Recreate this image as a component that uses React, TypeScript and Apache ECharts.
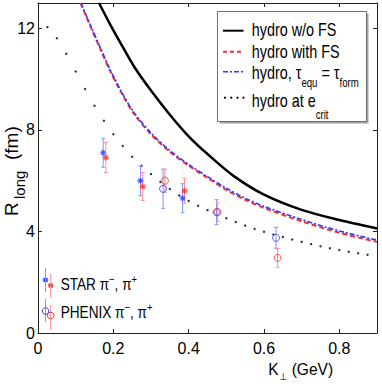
import React, { useEffect, useRef } from "react";
import * as echarts from "echarts";

const FF = '"Liberation Sans", Arial, Helvetica, sans-serif';

// axis ticks
const xTickLabels = ["0", "0.2", "0.4", "0.6", "0.8"];
const yTickLabels = ["0", "4", "8", "12"];

// hydro w/o FS (black solid)
const noFsK = [0.162, 0.19, 0.22, 0.255, 0.3, 0.35, 0.4, 0.45, 0.52, 0.6, 0.7, 0.8, 0.9];
const noFsR = [13.0, 12.2, 11.4, 10.5, 9.55, 8.6, 7.75, 7.05, 6.18, 5.45, 4.85, 4.45, 4.12];

// hydro with FS (red dashed)
const fsK = [0.113, 0.14, 0.166, 0.19, 0.22, 0.255, 0.3, 0.35, 0.4, 0.45, 0.5, 0.55, 0.6, 0.7, 0.8, 0.9];
const fsR = [13.0, 12.05, 11.17, 10.37, 9.5, 8.63, 7.83, 7.14, 6.59, 6.11, 5.64, 5.25, 4.93, 4.4, 3.95, 3.59];

// hydro, tau_equ = tau_form (blue dash-dot)
const equK = [0.114, 0.14, 0.166, 0.19, 0.22, 0.255, 0.3, 0.35, 0.4, 0.45, 0.5, 0.55, 0.6, 0.7, 0.8, 0.9];
const equR = [13.0, 12.1, 11.22, 10.42, 9.55, 8.68, 7.88, 7.19, 6.64, 6.16, 5.7, 5.31, 4.99, 4.47, 4.02, 3.66];

// hydro at e_crit (black dotted)
const critK = [0.025, 0.05, 0.075, 0.1, 0.125, 0.15, 0.175, 0.2, 0.225, 0.25, 0.275, 0.3, 0.325, 0.35, 0.375, 0.4, 0.425, 0.45, 0.475, 0.5, 0.525, 0.55, 0.575, 0.6, 0.625, 0.65, 0.675, 0.7, 0.725, 0.75, 0.775, 0.8, 0.825, 0.85, 0.875];
const critR = [12.05, 11.61, 11.0, 10.3, 9.61, 8.95, 8.36, 7.83, 7.37, 6.94, 6.59, 6.26, 5.95, 5.67, 5.42, 5.2, 5.01, 4.84, 4.68, 4.52, 4.37, 4.23, 4.1, 3.99, 3.88, 3.78, 3.68, 3.59, 3.5, 3.42, 3.34, 3.27, 3.2, 3.14, 3.08];

// STAR data
const starMinusK = [0.173, 0.272, 0.384];
const starMinusR = [7.1, 6.0, 5.31];
const starMinusErr = [0.57, 0.59, 0.57];
const starPlusK = [0.18, 0.278, 0.389];
const starPlusR = [6.91, 5.77, 5.6];
const starPlusErr = [0.59, 0.55, 0.49];

// PHENIX data
const phenixMinusK = [0.332, 0.474, 0.632];
const phenixMinusR = [5.68, 4.76, 3.75];
const phenixMinusErr = [0.77, 0.49, 0.41];
const phenixPlusK = [0.337, 0.477, 0.636];
const phenixPlusR = [6.0, 4.76, 2.96];
const phenixPlusErr = [0.46, 0.37, 0.37];

const BLUE = "#2b3bff";
const RED = "#ff2a2a";
const BLUE_BAR = "#8793ff";
const RED_BAR = "#ff8f8f";

const STAR_SYMBOL = "path://M5,0L5,10M0,5L10,5M1.5,1.5L8.5,8.5M1.5,8.5L8.5,1.5";

let _ctx: CanvasRenderingContext2D | null = null;
function measure(t: string, size: number) {
  if (!_ctx) _ctx = document.createElement("canvas").getContext("2d");
  _ctx!.font = `${size}px ${FF}`;
  return _ctx!.measureText(t).width;
}

function txt(t: string, x: number, base: number, size: number, sx = 1) {
  return {
    type: "text",
    x,
    y: base - 0.35 * size,
    scaleX: sx,
    silent: true,
    z: 100,
    style: { text: t, fill: "#000", font: `${size}px ${FF}`, textAlign: "left", textVerticalAlign: "middle" },
  };
}

function chain(x0: number, base: number, sx: number, pieces: [string, number, number][]) {
  let x = x0;
  const out: any[] = [];
  for (const [t, s, dy] of pieces) {
    out.push(txt(t, x, base + dy, s, sx));
    x += measure(t, s) * sx;
  }
  return out;
}

function pair(k: number[], r: number[]) {
  return k.map((v, i) => [v, r[i]]);
}

function errSeries(k: number[], r: number[], e: number[], color: string) {
  return {
    type: "custom",
    silent: true,
    z: 3,
    data: k.map((v, i) => [v, r[i], e[i]]),
    encode: { x: 0, y: 1 },
    renderItem: (params: any, api: any) => {
      const x = api.value(0);
      const y = api.value(1);
      const er = api.value(2);
      const top = api.coord([x, y + er]);
      const bot = api.coord([x, y - er]);
      const cw = 2;
      const st = { stroke: color, lineWidth: 1 };
      return {
        type: "group",
        children: [
          { type: "line", shape: { x1: top[0], y1: top[1], x2: bot[0], y2: bot[1] }, style: st },
          { type: "line", shape: { x1: top[0] - cw, y1: top[1], x2: top[0] + cw, y2: top[1] }, style: st },
          { type: "line", shape: { x1: bot[0] - cw, y1: bot[1], x2: bot[0] + cw, y2: bot[1] }, style: st },
        ],
      };
    },
  };
}

function fmt(labels: string[], step: number) {
  return (v: number) => {
    const q = v / step;
    const r = Math.round(q);
    return Math.abs(q - r) < 1e-6 && labels[r] !== undefined ? labels[r] : "";
  };
}

function legendStar(cx: number, cy: number, color: string) {
  const a = 2.8;
  const d = 2;
  const st = { stroke: color, lineWidth: 1.2 };
  return {
    type: "group",
    z: 100,
    silent: true,
    children: [
      { type: "line", shape: { x1: cx, y1: cy - a, x2: cx, y2: cy + a }, style: st },
      { type: "line", shape: { x1: cx - a, y1: cy, x2: cx + a, y2: cy }, style: st },
      { type: "line", shape: { x1: cx - d, y1: cy - d, x2: cx + d, y2: cy + d }, style: st },
      { type: "line", shape: { x1: cx - d, y1: cy + d, x2: cx + d, y2: cy - d }, style: st },
    ],
  };
}

function vline(x: number, y1: number, y2: number, color: string) {
  return { type: "line", z: 99, silent: true, shape: { x1: x, y1, x2: x, y2 }, style: { stroke: color, lineWidth: 1 } };
}

export default function App() {
  const ref = useRef<HTMLDivElement>(null);
  useEffect(() => {
    if (!ref.current) return;
    const chart = echarts.init(ref.current, undefined, { renderer: "svg" });

    const axisLineStyle = { color: "#222", width: 1 };
    const baseX = {
      type: "value",
      min: 0,
      max: 0.9,
      interval: 0.2,
      splitLine: { show: false },
      axisLine: { show: true, onZero: false, lineStyle: axisLineStyle },
      axisTick: { show: true, inside: true, length: 4, lineStyle: axisLineStyle },
    };
    const baseY = {
      type: "value",
      min: 0,
      max: 13,
      interval: 4,
      splitLine: { show: false },
      axisLine: { show: true, onZero: false, lineStyle: axisLineStyle },
      axisTick: { show: true, inside: true, length: 4, lineStyle: axisLineStyle },
    };

    const graphics: any[] = [];
    // Top-right legend box
    graphics.push({
      type: "rect", z: 98, silent: true,
      shape: { x: 219.5, y: 13.5, width: 149, height: 110 },
      style: { fill: "#a0a0a0" },
    });
    graphics.push({
      type: "rect", z: 99, silent: true,
      shape: { x: 217.5, y: 11.5, width: 149, height: 110 },
      style: { fill: "#fff", stroke: "#707070", lineWidth: 1 },
    });
    // line samples
    graphics.push({ type: "line", z: 100, silent: true, shape: { x1: 223, y1: 30.7, x2: 243.5, y2: 30.7 }, style: { stroke: "#000", lineWidth: 2 } });
    graphics.push({ type: "line", z: 100, silent: true, shape: { x1: 223, y1: 51.7, x2: 243.5, y2: 51.7 }, style: { stroke: RED, lineWidth: 2, lineDash: [4, 3] } });
    graphics.push({ type: "line", z: 100, silent: true, shape: { x1: 223, y1: 71.7, x2: 243.5, y2: 71.7 }, style: { stroke: BLUE, lineWidth: 1.5, lineDash: [5, 2, 2, 2] } });
    [225, 231.3, 237.5, 243.5].forEach((x) =>
      graphics.push({ type: "circle", z: 100, silent: true, shape: { cx: x, cy: 97.7, r: 1.1 }, style: { fill: "#000" } })
    );
    const LS = 0.8;
    graphics.push(...chain(251.7, 36, LS, [["hydro w/o FS", 18, 0]]));
    graphics.push(...chain(251.7, 57.3, LS, [["hydro with FS", 18, 0]]));
    graphics.push(...chain(251.7, 79, LS, [["hydro, τ", 18, 0], ["equ", 12, 8], [" = τ", 18, 0], ["form", 12, 8]]));
    graphics.push(...chain(251.7, 106.7, LS, [["hydro at e", 18, 0], ["crit", 12, 12]]));

    // Bottom-left data legend
    graphics.push(vline(45.5, 268, 292, BLUE_BAR));
    graphics.push(vline(50.7, 274, 298, RED_BAR));
    graphics.push(legendStar(45.5, 280, BLUE));
    graphics.push(legendStar(50.7, 285.5, RED));
    graphics.push(vline(45.5, 299, 322, BLUE_BAR));
    graphics.push(vline(50.7, 305, 330, RED_BAR));
    graphics.push({ type: "circle", z: 100, silent: true, shape: { cx: 45.5, cy: 311, r: 3.3 }, style: { fill: "none", stroke: BLUE, lineWidth: 1 } });
    graphics.push({ type: "circle", z: 100, silent: true, shape: { cx: 50.7, cy: 315.5, r: 3.3 }, style: { fill: "none", stroke: RED, lineWidth: 1 } });
    const DS = 0.85;
    graphics.push(...chain(60.7, 290, DS, [["STAR π", 16, 0], ["−", 11, -7], [", π", 16, 0], ["+", 11, -7]]));
    graphics.push(...chain(60.7, 318.5, DS, [["PHENIX π", 16, 0], ["−", 11, -7], [", π", 16, 0], ["+", 11, -7]]));

    // X axis title
    graphics.push(...chain(268.3, 375, 0.97, [["K", 16, 0], ["⊥", 10, 5], [" (GeV)", 16, 0]]));
    // Y axis title (rotated)
    graphics.push({
      type: "group",
      x: 18.3,
      y: 216,
      rotation: Math.PI / 2,
      silent: true,
      z: 100,
      children: [txt("R", 0, 0, 19), txt("long", 17, 6, 15), txt("(fm)", 56, 0, 19)],
    });

    const option: any = {
      animation: false,
      grid: { left: 38, right: 5, top: 3, bottom: 51 },
      xAxis: [
        {
          ...baseX,
          position: "bottom",
          axisLabel: { show: true, color: "#000", fontSize: 16, fontFamily: FF, margin: 7, showMaxLabel: false, formatter: fmt(xTickLabels, 0.2) },
        },
        { ...baseX, position: "top", axisLabel: { show: false } },
      ],
      yAxis: [
        {
          ...baseY,
          position: "left",
          axisLabel: { show: true, color: "#000", fontSize: 16, fontFamily: FF, margin: 3, showMaxLabel: false, formatter: fmt(yTickLabels, 4) },
        },
        { ...baseY, position: "right", axisLabel: { show: false } },
      ],
      series: [
        {
          name: "hydro w/o FS", type: "line", data: pair(noFsK, noFsR), showSymbol: false, smooth: 0.3,
          lineStyle: { color: "#000", width: 2.5 }, z: 2, silent: true,
        },
        {
          name: "hydro with FS", type: "line", data: pair(fsK, fsR), showSymbol: false, smooth: 0.3,
          lineStyle: { color: RED, width: 2, type: [5, 3] }, z: 2, silent: true,
        },
        {
          name: "hydro, tau", type: "line", data: pair(equK, equR), showSymbol: false, smooth: 0.3,
          lineStyle: { color: BLUE, width: 1.6, type: [5, 2, 2, 2] }, z: 2, silent: true,
        },
        {
          name: "hydro at e_crit", type: "scatter", data: pair(critK, critR), symbol: "circle", symbolSize: 2.4,
          itemStyle: { color: "#000" }, z: 2, silent: true,
        },
        errSeries(starMinusK, starMinusR, starMinusErr, BLUE_BAR),
        errSeries(starPlusK, starPlusR, starPlusErr, RED_BAR),
        errSeries(phenixMinusK, phenixMinusR, phenixMinusErr, BLUE_BAR),
        errSeries(phenixPlusK, phenixPlusR, phenixPlusErr, RED_BAR),
        {
          name: "STAR pi-", type: "scatter", data: pair(starMinusK, starMinusR), symbol: STAR_SYMBOL, symbolSize: 6,
          itemStyle: { color: BLUE, borderColor: BLUE, borderWidth: 1.2 }, z: 4, silent: true,
        },
        {
          name: "STAR pi+", type: "scatter", data: pair(starPlusK, starPlusR), symbol: STAR_SYMBOL, symbolSize: 6,
          itemStyle: { color: RED, borderColor: RED, borderWidth: 1.2 }, z: 4, silent: true,
        },
        {
          name: "PHENIX pi-", type: "scatter", data: pair(phenixMinusK, phenixMinusR), symbol: "circle", symbolSize: 7,
          itemStyle: { color: "rgba(0,0,0,0)", borderColor: BLUE, borderWidth: 1 }, z: 4, silent: true,
        },
        {
          name: "PHENIX pi+", type: "scatter", data: pair(phenixPlusK, phenixPlusR), symbol: "circle", symbolSize: 7,
          itemStyle: { color: "rgba(0,0,0,0)", borderColor: RED, borderWidth: 1 }, z: 4, silent: true,
        },
      ],
      graphic: { elements: graphics },
    };
    chart.setOption(option);
    return () => chart.dispose();
  }, []);

  return (
    <div
      ref={ref}
      style={{ position: "fixed", left: 0, top: 0, width: 382, height: 384, background: "#fff" }}
    />
  );
}
